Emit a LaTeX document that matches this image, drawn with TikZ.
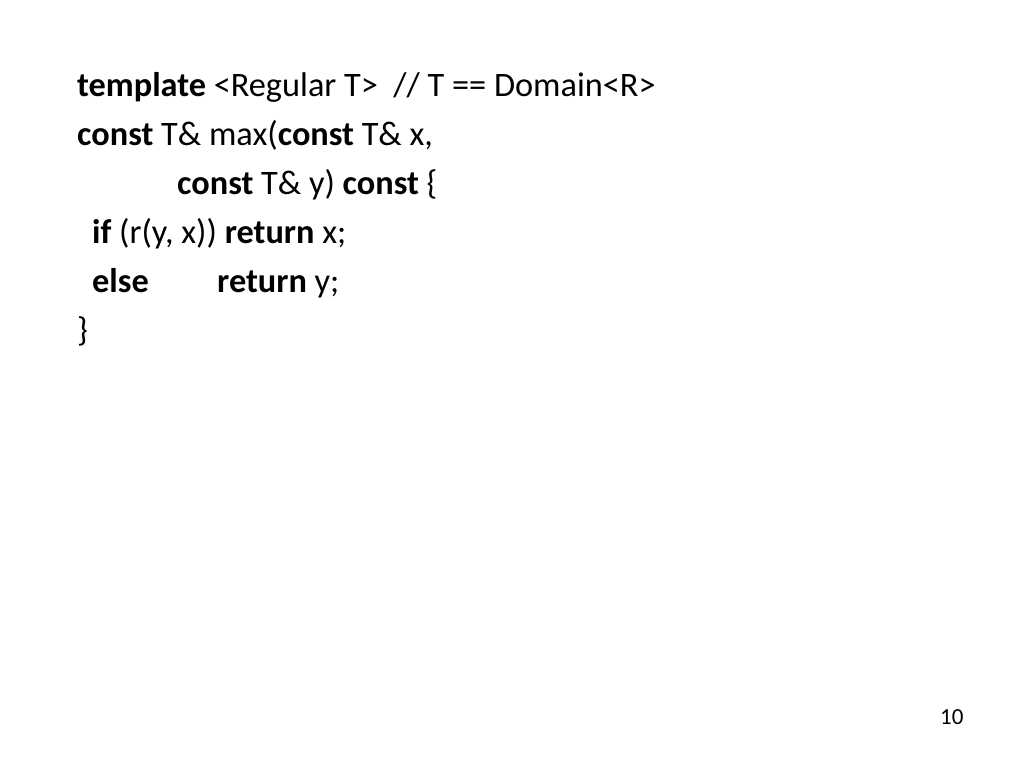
\documentclass[tikz,border=0pt]{standalone}
\usepackage{fontspec}
\setmainfont{Carlito}
\begin{document}
\begin{tikzpicture}[x=1pt,y=1pt,every node/.style={inner sep=0pt,anchor=base west},
 code/.style={font=\fontsize{34.3}{40}\selectfont}]
\useasboundingbox (0,0) rectangle (1024,768);
\node[code] (l1) at (77,671) {\textbf{template} <Regular T>\ \ // T == Domain<R>};
\node[code] (l2) at (77,622) {\textbf{const} T\& max(\textbf{const} T\& x,};
\node[code] (l3) at (177,573) {\textbf{const} T\& y) \textbf{const} \{};
\node[code] (l4) at (92,524) {\textbf{if} (r(y, x)) \textbf{return} x;};
\node[code] (l5a) at (92,475) {\textbf{else}};
\node[code] (l5b) at (217,475) {\textbf{return} y;};
\node[code] (l6) at (77,426) {\}};
\node[font=\fontsize{23}{26}\selectfont] (pg) at (940,44) {10};
\end{tikzpicture}
\end{document}
